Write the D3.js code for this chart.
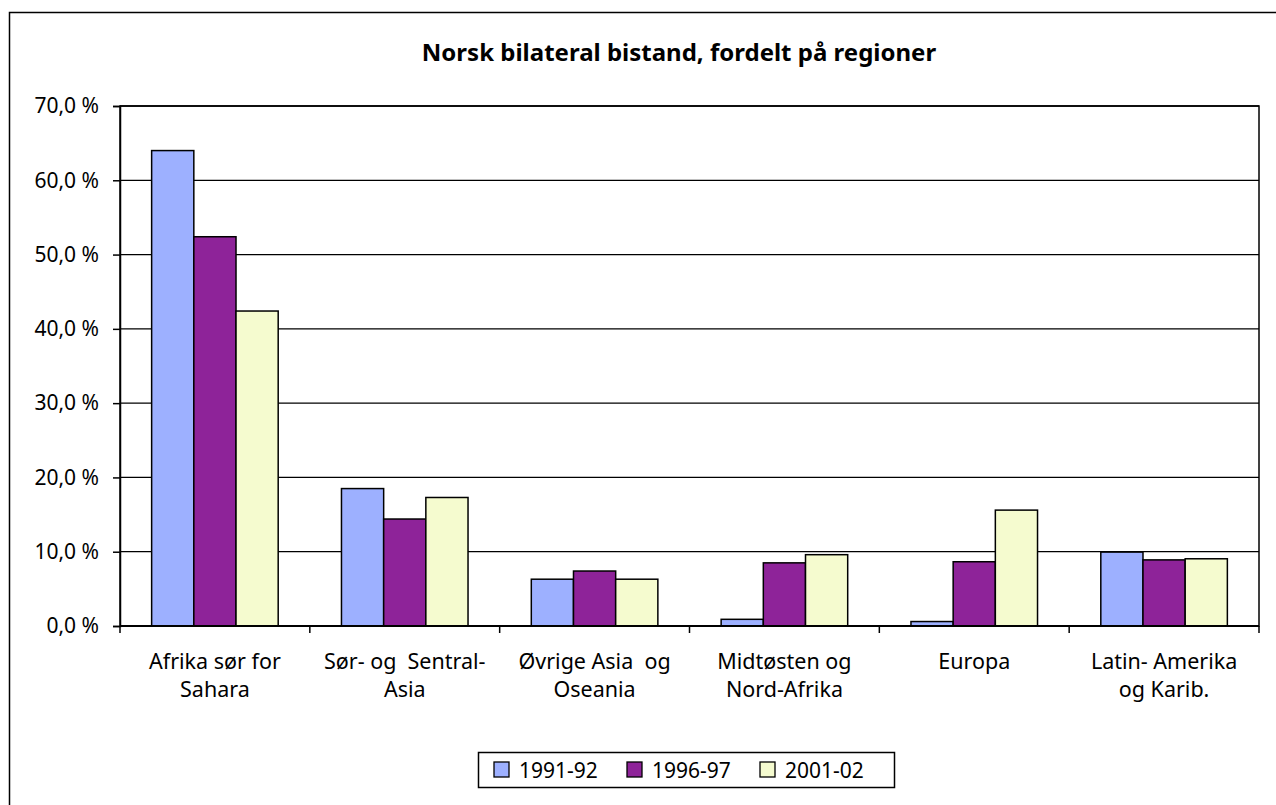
<html>
<meta charset="utf-8">
<head>
	<title>Norsk bilateral bistand</title>
	<script src="https://d3js.org/d3.v7.min.js"></script>
</head>
<body style="margin:0;background:#fff">
<svg id="chart" width="1276" height="805"></svg>

<script>
	var regions = [
		["Afrika sør for", "Sahara"],
		["Sør- og  Sentral-", "Asia"],
		["Øvrige Asia  og", "Oseania"],
		["Midtøsten og", "Nord-Afrika"],
		["Europa"],
		["Latin- Amerika", "og Karib."]
	];
	var periods = ["1991-92", "1996-97", "2001-02"];
	var colors = ["#9DB0FF", "#8E2399", "#F5FBCF"];
	var v1991 = [64.0, 18.5, 6.3, 0.9, 0.6, 9.95];
	var v1996 = [52.4, 14.4, 7.4, 8.5, 8.65, 8.9];
	var v2001 = [42.4, 17.3, 6.3, 9.6, 15.6, 9.05];
	var yTicks = [0, 10, 20, 30, 40, 50, 60, 70];

	var series = [v1991, v1996, v2001];
	var font = "'Noto Sans', sans-serif";

	var svg = d3.select("#chart");
	var plotL = 120, plotR = 1259, plotT = 106, plotB = 626;

	// outer frame (runs off the picture on the right and bottom)
	svg.append("rect")
		.attr("x", 9.5).attr("y", 12.5)
		.attr("width", 1300).attr("height", 900)
		.attr("fill", "none").attr("stroke", "#000").attr("stroke-width", 1.5);

	svg.append("text")
		.attr("x", 679).attr("y", 61)
		.attr("text-anchor", "middle")
		.attr("font-family", font).attr("font-weight", "bold").attr("font-size", 24)
		.text("Norsk bilateral bistand, fordelt på regioner");

	var x = d3.scaleBand().domain(d3.range(regions.length)).range([plotL, plotR]);
	var xInner = d3.scaleBand().domain(d3.range(periods.length))
		.range([0, x.bandwidth()]).paddingInner(0).paddingOuter(0.75);
	var y = d3.scaleLinear().domain([0, 70]).range([plotB, plotT]);

	// plot frame + gridlines
	svg.append("rect")
		.attr("x", plotL).attr("y", plotT)
		.attr("width", plotR - plotL).attr("height", plotB - plotT)
		.attr("fill", "none").attr("stroke", "#000").attr("stroke-width", 1.5);

	svg.selectAll("line.grid").data(yTicks.slice(1))
		.enter().append("line")
		.attr("x1", plotL).attr("x2", plotR)
		.attr("y1", function (d) { return y(d); })
		.attr("y2", function (d) { return y(d); })
		.attr("stroke", "#000").attr("stroke-width", 1.3);

	// bars
	series.forEach(function (vals, s) {
		svg.selectAll("rect.s" + s).data(vals)
			.enter().append("rect")
			.attr("x", function (d, i) { return x(i) + xInner(s); })
			.attr("y", function (d) { return y(d); })
			.attr("width", xInner.bandwidth())
			.attr("height", function (d) { return y(0) - y(d); })
			.attr("fill", colors[s])
			.attr("stroke", "#000").attr("stroke-width", 1.5);
	});

	// y axis
	var yAxis = svg.append("g")
		.attr("transform", "translate(" + plotL + ",0)")
		.call(d3.axisLeft(y).tickValues(yTicks).tickSize(7).tickPadding(14)
			.tickFormat(function (d) { return d.toFixed(1).replace(".", ",") + " %"; }));
	yAxis.selectAll("text").attr("font-family", font).attr("font-size", 21).attr("fill", "#000");
	yAxis.select(".domain").attr("stroke-width", 1.5);
	yAxis.selectAll(".tick line").attr("stroke-width", 1.5);

	// x axis
	var xTickPos = d3.range(regions.length + 1).map(function (i) {
		return i < regions.length ? x(i) : plotR;
	});
	svg.selectAll("line.xtick").data(xTickPos)
		.enter().append("line")
		.attr("x1", function (d) { return d; }).attr("x2", function (d) { return d; })
		.attr("y1", plotB).attr("y2", plotB + 7)
		.attr("stroke", "#000").attr("stroke-width", 1.5);

	svg.append("line")
		.attr("x1", plotL).attr("x2", plotR).attr("y1", plotB).attr("y2", plotB)
		.attr("stroke", "#000").attr("stroke-width", 1.8);

	var labels = svg.selectAll("text.cat").data(regions)
		.enter().append("text")
		.attr("font-family", font).attr("font-size", 21.5)
		.attr("text-anchor", "middle")
		.attr("x", function (d, i) { return x(i) + x.bandwidth() / 2; })
		.attr("y", 669);
	labels.selectAll("tspan").data(function (d) { return d; })
		.enter().append("tspan")
		.attr("x", function () { return d3.select(this.parentNode).attr("x"); })
		.attr("dy", function (d, i) { return i ? 28 : 0; })
		.style("white-space", "pre")
		.text(function (d) { return d; });

	// legend
	svg.append("rect")
		.attr("x", 478.5).attr("y", 752.5).attr("width", 416).attr("height", 35)
		.attr("fill", "#fff").attr("stroke", "#000").attr("stroke-width", 1.5);
	var legendX = [494, 627, 760];
	var legend = svg.selectAll("g.leg").data(periods)
		.enter().append("g")
		.attr("transform", function (d, i) { return "translate(" + legendX[i] + ",762)"; });
	legend.append("rect")
		.attr("width", 15).attr("height", 15)
		.attr("fill", function (d, i) { return colors[i]; })
		.attr("stroke", "#000").attr("stroke-width", 1.3);
	legend.append("text")
		.attr("x", 25).attr("y", 15.5)
		.attr("font-family", font).attr("font-size", 21)
		.text(function (d) { return d; });
</script>
</body>
</html>
